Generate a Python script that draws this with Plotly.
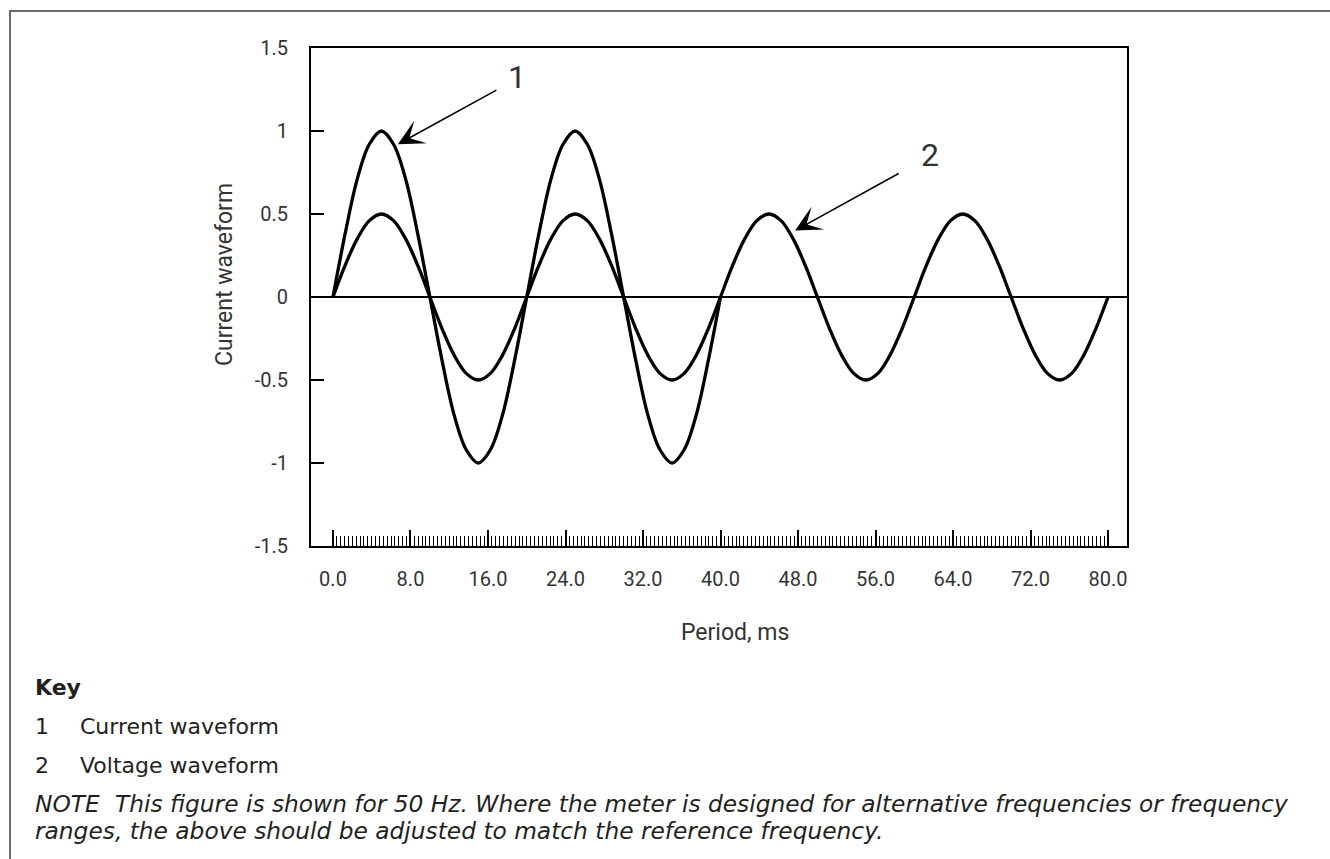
import plotly.graph_objects as go

# ---------------- data ----------------
# one period (20 ms) of each waveform, read every 1.25 ms
current_period_values = [0, 0.38, 0.71, 0.92, 1.0, 0.92, 0.71, 0.38,
                         0, -0.38, -0.71, -0.92, -1.0, -0.92, -0.71, -0.38]
voltage_period_values = [0, 0.19, 0.35, 0.46, 0.5, 0.46, 0.35, 0.19,
                         0, -0.19, -0.35, -0.46, -0.5, -0.46, -0.35, -0.19]
current_periods = 2      # current shown from 0 to 40 ms
voltage_periods = 4      # voltage shown from 0 to 80 ms
sample_step_ms = 1.25

current_values = current_period_values * current_periods + [0]
voltage_values = voltage_period_values * voltage_periods + [0]
current_time_ms = [i * sample_step_ms for i in range(len(current_values))]
voltage_time_ms = [i * sample_step_ms for i in range(len(voltage_values))]

x_tick_vals = [0, 8, 16, 24, 32, 40, 48, 56, 64, 72, 80]
x_tick_text = ["0.0", "8.0", "16.0", "24.0", "32.0", "40.0",
               "48.0", "56.0", "64.0", "72.0", "80.0"]
y_tick_vals = [-1.5, -1, -0.5, 0, 0.5, 1, 1.5]
y_tick_text = ["-1.5", "-1", "-0.5", "0", "0.5", "1", "1.5"]
minor_tick_step = 0.4

key_numbers = ["1", "2"]
key_labels = ["Current waveform", "Voltage waveform"]

minor_tick_vals = [round(k * minor_tick_step, 3) for k in range(1, 200)
                   if k % 20 != 0]

# ---------------- layout geometry ----------------
W, H = 1330, 859
L, R, T, B = 311, 1127, 48, 546   # plot area in pixels
PW, PH = R - L, B - T


def px(x):
    return (x - L) / PW


def py(y):
    return (B - y) / PH


CHART_FONT = "Roboto, 'DejaVu Sans', sans-serif"
TEXT_FONT = "'DejaVu Sans', 'Open Sans', sans-serif"
CHART_COL = "#333333"
TEXT_COL = "#231f20"

fig = go.Figure()
fig.add_trace(go.Scatter(x=voltage_time_ms, y=voltage_values, mode="lines",
                         line=dict(color="black", width=3.3, shape="spline", smoothing=1.0),
                         name="Voltage waveform", showlegend=False, hoverinfo="skip"))
fig.add_trace(go.Scatter(x=current_time_ms, y=current_values, mode="lines",
                         line=dict(color="black", width=3.3, shape="spline", smoothing=1.0),
                         name="Current waveform", showlegend=False, hoverinfo="skip"))

fig.update_layout(
    width=W, height=H,
    margin=dict(l=L, r=W - R, t=T, b=H - B, pad=0),
    paper_bgcolor="white", plot_bgcolor="white",
    showlegend=False,
    font=dict(family=CHART_FONT, color=CHART_COL, size=20),
)

fig.update_xaxes(
    range=[-2.27, 81.96], showgrid=False, zeroline=False,
    showline=True, linecolor="black", linewidth=2, mirror=True,
    tickmode="array", tickvals=x_tick_vals, ticktext=x_tick_text,
    ticks="inside", ticklen=16, tickwidth=2, tickcolor="black",
    ticklabelstandoff=14,
    tickfont=dict(family=CHART_FONT, size=20, color=CHART_COL),
    minor=dict(tickmode="array", tickvals=minor_tick_vals, ticks="inside",
               ticklen=10, tickwidth=1.2, tickcolor="black", showgrid=False),
)
fig.update_yaxes(
    range=[-1.5, 1.5], showgrid=False,
    zeroline=True, zerolinecolor="black", zerolinewidth=1.5,
    showline=True, linecolor="black", linewidth=2, mirror=True,
    tickmode="array", tickvals=y_tick_vals, ticktext=y_tick_text,
    ticks="inside", ticklen=13, tickwidth=2, tickcolor="black",
    ticklabelstandoff=17,
    tickfont=dict(family=CHART_FONT, size=20, color=CHART_COL),
)

ann = []
# axis titles
ann.append(dict(text="Period, ms", x=px(735), y=py(632), xref="paper", yref="paper",
                showarrow=False, xanchor="center", yanchor="middle",
                font=dict(family=CHART_FONT, size=23, color=CHART_COL)))
ann.append(dict(text="Current waveform", x=px(224), y=py(275), xref="paper", yref="paper",
                showarrow=False, xanchor="center", yanchor="middle", textangle=-90,
                font=dict(family=CHART_FONT, size=23, color=CHART_COL)))

# callout arrows
ann.append(dict(x=6.7, y=0.92, xref="x", yref="y", ax=100, ay=-55, text="",
                showarrow=True, arrowhead=3, arrowsize=2.7, arrowwidth=1.6,
                arrowcolor="black"))
ann.append(dict(x=47.7, y=0.40, xref="x", yref="y", ax=105, ay=-58, text="",
                showarrow=True, arrowhead=3, arrowsize=2.7, arrowwidth=1.6,
                arrowcolor="black"))
ann.append(dict(text=key_numbers[0], x=px(517), y=py(77), xref="paper", yref="paper",
                showarrow=False, xanchor="center", yanchor="middle",
                font=dict(family=CHART_FONT, size=32, color=CHART_COL)))
ann.append(dict(text=key_numbers[1], x=px(930), y=py(155), xref="paper", yref="paper",
                showarrow=False, xanchor="center", yanchor="middle",
                font=dict(family=CHART_FONT, size=32, color=CHART_COL)))

# key block
ann.append(dict(text="<b>Key</b>", x=px(33), y=py(687), xref="paper", yref="paper",
                showarrow=False, xanchor="left", yanchor="middle",
                font=dict(family=TEXT_FONT, size=22, color=TEXT_COL)))
for i, (num, lab) in enumerate(zip(key_numbers, key_labels)):
    yy = 726 + 39 * i
    ann.append(dict(text=num, x=px(33), y=py(yy), xref="paper", yref="paper",
                    showarrow=False, xanchor="left", yanchor="middle",
                    font=dict(family=TEXT_FONT, size=22, color=TEXT_COL)))
    ann.append(dict(text=lab, x=px(78), y=py(yy), xref="paper", yref="paper",
                    showarrow=False, xanchor="left", yanchor="middle",
                    font=dict(family=TEXT_FONT, size=22, color=TEXT_COL)))
ann.append(dict(text="<i>NOTE</i>", x=px(33), y=py(803), xref="paper", yref="paper",
                showarrow=False, xanchor="left", yanchor="middle",
                font=dict(family=TEXT_FONT, size=23.3, color=TEXT_COL)))
ann.append(dict(text="<i>This figure is shown for 50 Hz. Where the meter is designed for "
                     "alternative frequencies or frequency</i>",
                x=px(113), y=py(803), xref="paper", yref="paper",
                showarrow=False, xanchor="left", yanchor="middle",
                font=dict(family=TEXT_FONT, size=23.3, color=TEXT_COL)))
ann.append(dict(text="<i>ranges, the above should be adjusted to match the reference frequency.</i>",
                x=px(33), y=py(830), xref="paper", yref="paper",
                showarrow=False, xanchor="left", yanchor="middle",
                font=dict(family=TEXT_FONT, size=23.3, color=TEXT_COL)))
fig.update_layout(annotations=ann)

# outer page frame (open to the right and bottom)
fig.add_shape(type="rect", xref="paper", yref="paper",
              x0=px(10), x1=px(1345), y0=py(875), y1=py(11),
              line=dict(color="#6a6a6a", width=2), fillcolor="rgba(0,0,0,0)",
              layer="below")

fig.write_html("out.html")
